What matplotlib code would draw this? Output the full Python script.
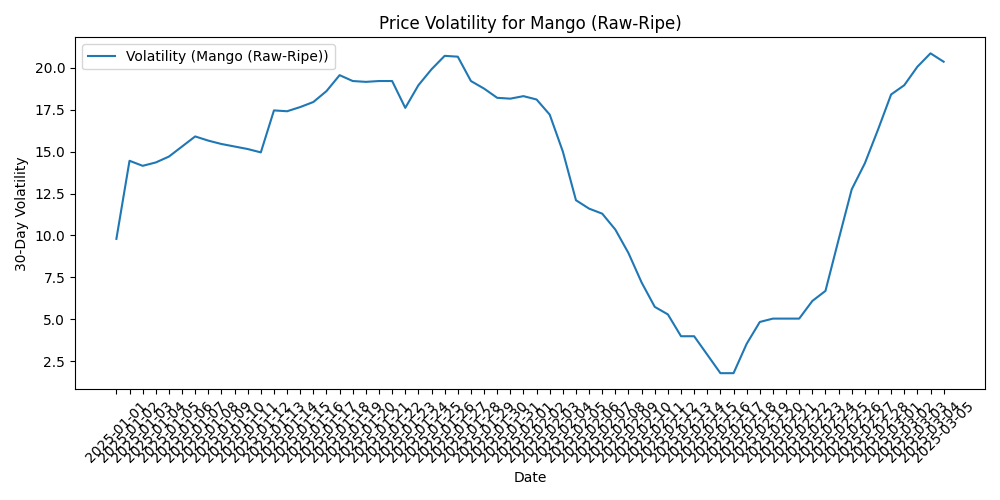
import pandas as pd
import matplotlib
matplotlib.use("Agg")
import matplotlib.pyplot as plt

dates = [d.strftime("%Y-%m-%d") for d in pd.date_range("2025-01-01", "2025-03-05")]
volatility = [9.8, 14.45, 14.15, 14.35, 14.7, 15.3, 15.9, 15.65, 15.45, 15.3,
              15.15, 14.95, 17.45, 17.4, 17.65, 17.95, 18.6, 19.55, 19.2, 19.15,
              19.2, 19.2, 17.6, 18.95, 19.9, 20.7, 20.65, 19.2, 18.75, 18.2,
              18.15, 18.3, 18.1, 17.2, 15.0, 12.1, 11.6, 11.3, 10.35, 8.95,
              7.2, 5.75, 5.3, 4.0, 4.0, 2.9, 1.8, 1.8, 3.55, 4.85,
              5.05, 5.05, 5.05, 6.1, 6.7, 9.75, 12.75, 14.3, 16.3, 18.4,
              18.95, 20.05, 20.85, 20.35]

fig = plt.figure(figsize=(10, 5))
plt.plot(dates, volatility, label="Volatility (Mango (Raw-Ripe))")
plt.title("Price Volatility for Mango (Raw-Ripe)")
plt.xlabel("Date")
plt.ylabel("30-Day Volatility")
plt.xticks(rotation=45)
plt.legend(loc="upper left")
plt.tight_layout()
plt.savefig("out.png", dpi=100)
